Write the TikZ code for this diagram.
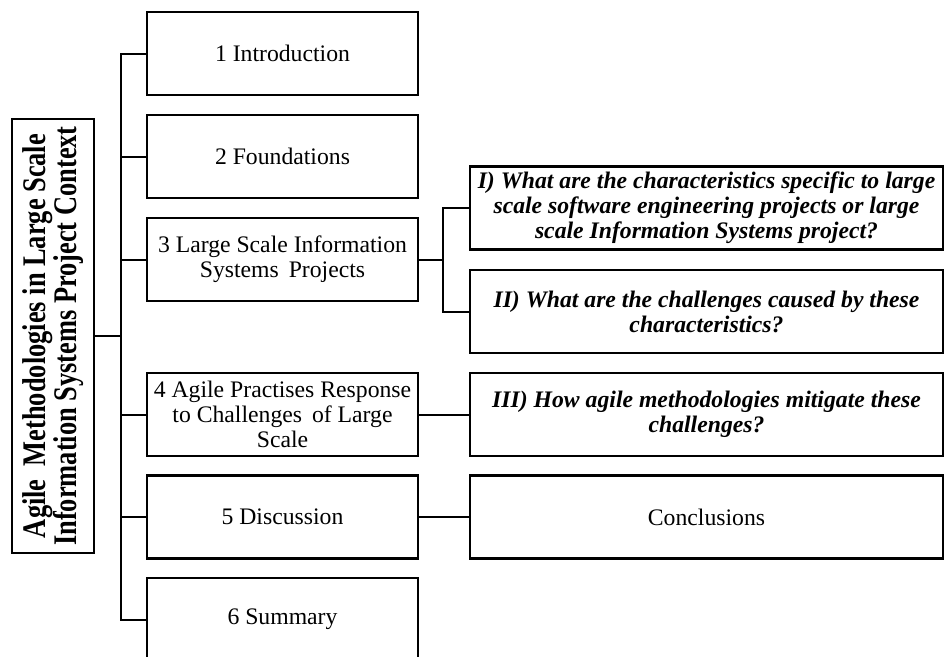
\documentclass[tikz,border=0pt]{standalone}
\usepackage{fontspec}
\setmainfont{Liberation Serif}
\newfontfamily\rootfont[FakeStretch=0.8]{Liberation Serif}
\usetikzlibrary{calc}

\tikzset{
  part/.style={draw, line width=2.2pt, minimum width=271pt, minimum height=83pt,
    align=center, inner sep=2pt, font=\fontsize{23.7}{25}\selectfont},
  question/.style={draw, line width=2.2pt, minimum width=473pt, minimum height=83pt,
    align=center, inner sep=2pt, font=\fontsize{23.7}{25}\selectfont\bfseries\itshape},
  link/.style={line width=2pt}
}

\begin{document}
\begin{tikzpicture}[x=1pt, y=-1pt]
	\useasboundingbox (0,0) rectangle (944,656);
	\clip (0,0) rectangle (944,656);
	\node [draw, line width=2.2pt, rotate=90, minimum width=434pt, minimum height=82pt,
	  align=center, inner sep=2pt, font=\rootfont\fontsize{33}{30}\selectfont\bfseries]
	  (root) at (53,336) {Agile~ Methodologies in Large Scale\\Information Systems Project Context};
	\node [part] (intro) at (282.5,53.5) {1 Introduction};
	\node [part] (found) at (282.5,156.5) {2 Foundations};
	\node [part] (lsis) at (282.5,259.5) {3 Large Scale Information\\Systems\hspace{4pt} Projects};
	\node [part] (agile) at (282.5,414.5) {4 Agile Practises Response\\to Challenges\hspace{4pt} of Large\\Scale};
	\node [part] (disc) at (282.5,517) {5 Discussion};
	\node [part] (summ) at (282.5,619.5) {6 Summary};
	\node [question] (qone) at (706.5,208) {I) What are the characteristics specific to large\\scale software engineering projects or large\\scale Information Systems project?};
	\node [question] (qtwo) at (706.5,311.5) {II) What are the challenges caused by these\\characteristics?};
	\node [question] (qthree) at (706.5,414.5) {III) How agile methodologies mitigate these\\challenges?};
	\node [question, font=\fontsize{23.7}{25}\selectfont] (concl) at (706.5,517) {Conclusions};
	\coordinate (trunk) at (121,336);
	\coordinate (fork) at (443,259.5);
	\draw [link] (intro.west) -| (trunk) |- (summ.west);
	\draw [link] (root.south) -- (trunk);
	\draw [link] (found.west) -- (found.west -| trunk);
	\draw [link] (lsis.west) -- (lsis.west -| trunk);
	\draw [link] (agile.west) -- (agile.west -| trunk);
	\draw [link] (disc.west) -- (disc.west -| trunk);
	\draw [link] (lsis.east) -- (fork);
	\draw [link] (qone.west) -| (fork) |- (qtwo.west);
	\draw [link] (agile.east) -- (qthree.west);
	\draw [link] (disc.east) -- (concl.west);
\end{tikzpicture}
\end{document}
